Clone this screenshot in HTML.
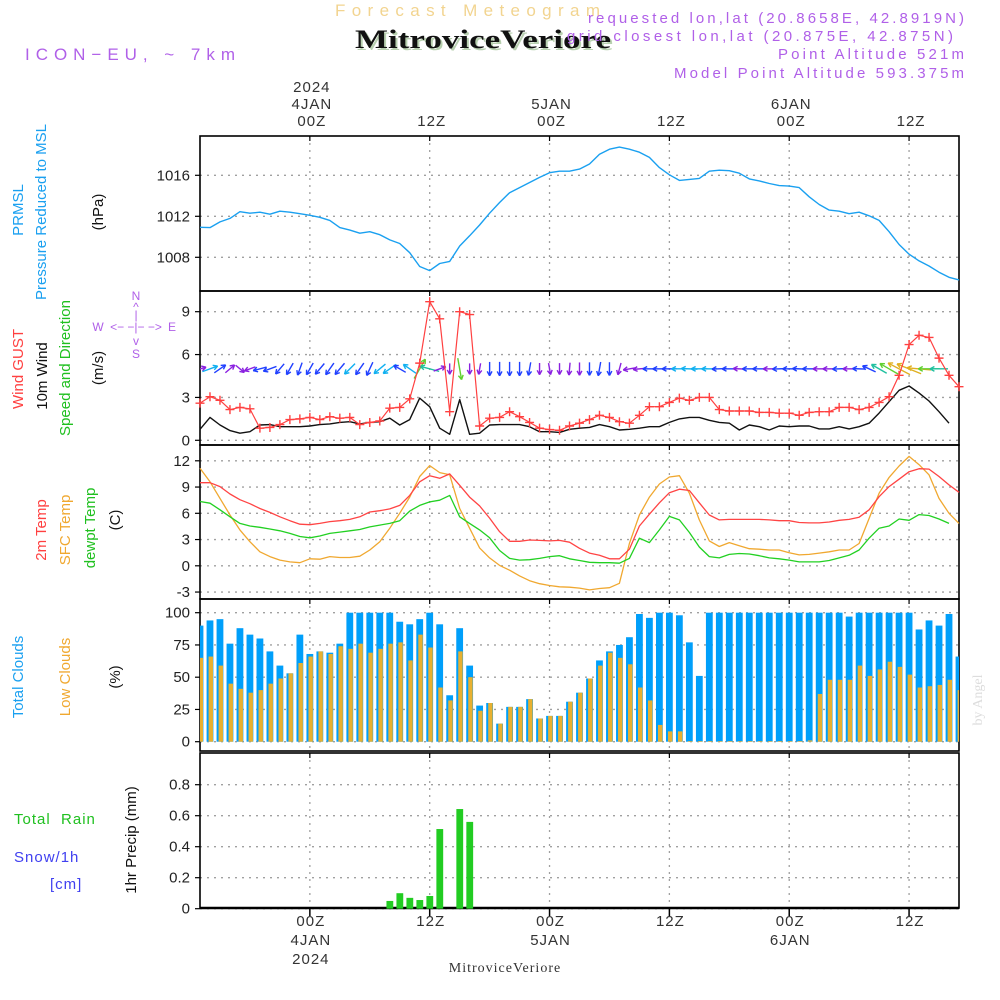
<!DOCTYPE html>
<html><head><meta charset="utf-8"><title>Meteogram</title>
<style>
html,body{margin:0;padding:0;background:#fff;}
svg{display:block;font-family:"Liberation Sans",sans-serif;}
.tk{font-size:15px;fill:#222;text-anchor:end;}
.xl{font-size:15px;fill:#333;text-anchor:middle;letter-spacing:1px;}
</style></head>
<body>
<svg id="chart" width="1000" height="1000" viewBox="0 0 1000 1000" xmlns="http://www.w3.org/2000/svg">
<text x="335" y="16" font-size="17" fill="#f2d490" textLength="265" lengthAdjust="spacing">Forecast Meteogram</text>
<text x="357" y="50" font-size="26" font-weight="bold" font-family="Liberation Serif, serif" fill="#b8d0b0" textLength="256" lengthAdjust="spacingAndGlyphs">MitroviceVeriore</text>
<text x="355" y="48" font-size="26" font-weight="bold" font-family="Liberation Serif, serif" fill="#111" textLength="256" lengthAdjust="spacingAndGlyphs">MitroviceVeriore</text>
<text x="25" y="60" font-size="17" fill="#b060e8" textLength="210" lengthAdjust="spacing">ICON−EU, ~ 7km</text>
<g font-size="15" fill="#b060e8">
<text x="588" y="23" textLength="376" lengthAdjust="spacing">requested lon,lat (20.8658E, 42.8919N)</text>
<text x="567" y="41" textLength="386" lengthAdjust="spacing">grid closest lon,lat (20.875E, 42.875N)</text>
<text x="778" y="59" textLength="186" lengthAdjust="spacing">Point Altitude 521m</text>
<text x="674" y="78" textLength="290" lengthAdjust="spacing">Model Point Altitude 593.375m</text>
</g>
<g id="axes"></g>
<g id="marks"></g>
<g font-size="15">
<text transform="translate(23,210) rotate(-90)" text-anchor="middle" fill="#1aa0f0">PRMSL</text>
<text transform="translate(46,212) rotate(-90)" text-anchor="middle" fill="#1aa0f0">Pressure Reduced to MSL</text>
<text transform="translate(103,212) rotate(-90)" text-anchor="middle" fill="#111">(hPa)</text>
<text transform="translate(23,369) rotate(-90)" text-anchor="middle" fill="#ff4040">Wind GUST</text>
<text transform="translate(47,376) rotate(-90)" text-anchor="middle" fill="#111">10m Wind</text>
<text transform="translate(70,368) rotate(-90)" text-anchor="middle" fill="#20c020">Speed and Direction</text>
<text transform="translate(103,368) rotate(-90)" text-anchor="middle" fill="#111">(m/s)</text>
<text transform="translate(46,530) rotate(-90)" text-anchor="middle" fill="#ff4040">2m Temp</text>
<text transform="translate(70,530) rotate(-90)" text-anchor="middle" fill="#f0a830">SFC Temp</text>
<text transform="translate(95,528) rotate(-90)" text-anchor="middle" fill="#20c020">dewpt Temp</text>
<text transform="translate(120,520) rotate(-90)" text-anchor="middle" fill="#111">(C)</text>
<text transform="translate(23,677) rotate(-90)" text-anchor="middle" fill="#1aa0f0">Total Clouds</text>
<text transform="translate(70,677) rotate(-90)" text-anchor="middle" fill="#f0a830">Low Clouds</text>
<text transform="translate(120,677) rotate(-90)" text-anchor="middle" fill="#111">(%)</text>
<text x="14" y="824" fill="#20c020" letter-spacing="1">Total&#160;&#160;Rain</text>
<text x="14" y="862" fill="#4040f0" letter-spacing="1">Snow/1h</text>
<text x="50" y="889" fill="#4040f0" letter-spacing="1">[cm]</text>
<text transform="translate(136,840) rotate(-90)" text-anchor="middle" fill="#111">1hr Precip (mm)</text>
</g>
<g font-size="12" fill="#b060e8" text-anchor="middle">
<text x="136" y="300">N</text><text x="136" y="311">^</text><text x="136" y="319">|</text>
<text x="98" y="331">W</text><text x="136" y="331">&lt;− −|− −&gt;</text><text x="172" y="331">E</text>
<text x="136" y="345">v</text><text x="136" y="358">S</text>
</g>
<text x="505" y="972" font-size="14" font-family="Liberation Serif, serif" fill="#333" text-anchor="middle" letter-spacing="1">MitroviceVeriore</text>
<text transform="translate(982,700) rotate(-90)" font-size="14" font-family="Liberation Serif, serif" fill="#ddd" text-anchor="middle">by Angel</text>
</svg>
<script>
// hours from 00Z 4 JAN, -11 .. 65
const hourStart = -11;
const pressure = [1010.93,1010.9,1011.45,1011.8,1012.45,1012.3,1012.4,1012.2,1012.5,1012.4,1012.25,1012.1,1011.9,1011.6,1010.9,1010.65,1010.35,1010.5,1010.2,1009.7,1009.35,1008.45,1007.1,1006.7,1007.4,1007.6,1009.1,1010.1,1011.15,1012.3,1013.35,1014.3,1014.8,1015.3,1015.8,1016.25,1016.4,1016.4,1016.6,1017.1,1018.05,1018.55,1018.75,1018.55,1018.25,1017.75,1016.75,1016.05,1015.5,1015.6,1015.7,1016.4,1016.5,1016.45,1016.2,1015.65,1015.45,1015.2,1015.0,1014.95,1014.8,1013.9,1013.15,1012.6,1012.5,1012.25,1012.4,1012.05,1011.6,1010.5,1009.25,1008.3,1007.65,1007.15,1006.55,1006.05,1005.8];
const gust = [2.6,3.05,2.8,2.15,2.3,2.2,0.85,0.9,1.1,1.45,1.5,1.6,1.45,1.65,1.55,1.6,1.1,1.25,1.35,2.25,2.3,2.9,5.4,9.7,8.5,2.0,9.0,8.8,1.0,1.55,1.6,2.0,1.65,1.25,0.85,0.75,0.7,1.0,1.2,1.45,1.75,1.6,1.3,1.2,1.75,2.35,2.35,2.65,2.95,2.8,3.0,3.0,2.15,2.05,2.05,2.05,1.95,1.95,1.9,1.9,1.75,1.95,2.0,2.0,2.3,2.3,2.15,2.3,2.65,3.05,4.55,6.7,7.35,7.2,5.75,4.55,3.75];
const windSpeed = [0.77,1.6,1.07,0.68,0.5,0.6,1.07,1.1,0.95,0.95,0.95,1.0,1.1,1.15,1.25,1.3,1.15,1.25,1.3,1.55,1.07,1.45,2.95,2.35,0.85,0.42,2.85,0.42,0.5,1.07,1.1,1.1,1.1,0.95,0.6,0.6,0.55,0.77,0.85,0.9,1.1,0.95,0.72,0.77,0.85,0.95,0.95,1.25,1.5,1.6,1.6,1.4,1.25,1.2,0.72,1.07,0.95,0.72,1.0,0.95,1.0,1.0,0.8,0.8,0.95,0.8,0.95,1.2,1.9,2.7,3.5,3.8,3.3,2.75,2.0,1.2];
const windDir = [15,20,35,40,-40,200,195,200,230,240,250,240,230,235,230,225,235,245,220,215,150,145,60,165,20,270,280,270,260,270,270,270,270,260,270,280,270,265,270,270,260,270,255,190,185,180,180,180,180,178,180,180,182,180,178,180,180,180,182,180,178,180,180,180,182,180,178,155,150,150,152,158,175,180,180];
const temp2m = [9.5,9.5,9.05,8.2,7.55,7.1,6.55,6.1,5.6,5.15,4.75,4.7,4.85,5.05,5.15,5.3,5.6,6.15,6.3,6.5,6.9,8.05,9.6,10.3,10.0,10.5,9.2,7.85,6.85,5.45,3.9,2.8,2.8,2.95,2.9,2.85,2.9,2.7,2.0,1.45,1.2,0.8,0.8,1.9,4.55,5.9,7.2,8.35,8.75,8.6,7.2,5.8,5.25,5.3,5.3,5.3,5.3,5.25,5.15,5.15,4.95,4.9,4.9,5.0,5.2,5.3,5.55,6.4,7.9,9.05,9.9,10.75,11.1,11.05,10.2,9.25,8.4];
const tempSfc = [11.15,9.6,7.7,5.8,4.1,2.75,1.6,1.05,0.65,0.45,0.35,0.8,0.75,1.05,0.95,0.95,1.1,1.8,2.75,4.3,6.0,7.85,10.2,11.45,10.65,10.4,6.55,4.3,2.05,0.9,0.05,-0.5,-1.15,-1.7,-2.05,-2.25,-2.4,-2.45,-2.55,-2.75,-2.6,-2.5,-2.0,2.55,5.8,7.85,9.35,10.15,10.3,8.3,5.25,2.85,2.2,2.65,2.3,1.95,1.9,1.8,1.8,1.5,1.25,1.3,1.45,1.6,1.8,1.8,2.55,5.4,8.3,10.1,11.4,12.5,11.55,10.4,7.7,6.0,4.85];
const dewpt = [7.35,7.15,6.4,5.6,4.85,4.55,4.4,4.2,4.0,3.7,3.35,3.2,3.4,3.7,3.85,4.0,4.15,4.45,4.65,4.85,5.15,6.25,6.9,7.3,7.5,8.05,5.6,4.85,4.1,3.2,1.75,0.85,0.65,0.7,0.85,1.05,1.15,0.8,0.6,0.4,0.35,0.35,0.3,0.85,3.15,2.65,4.1,5.65,5.25,3.8,2.15,1.05,0.9,1.3,1.4,1.35,1.15,0.9,0.8,0.65,0.45,0.45,0.45,0.6,0.9,1.2,1.8,3.15,4.3,4.55,5.35,5.2,5.85,5.75,5.35,4.85];
const totalClouds = [90,94,95,76,88,83,80,70,59,53,83,68,70,69,76,100,100,100,100,100,93,91,95,100,91,36,88,59,28,30,14,27,27,33,18,20,20,31,38,49,63,70,75,81,99,96,100,100,98,77,51,100,100,100,100,100,100,100,100,100,100,100,100,100,100,97,100,100,100,100,100,100,87,94,90,99,66];
const lowClouds = [65,66,59,45,41,38,40,45,49,53,61,66,70,68,74,72,76,69,72,76,77,63,83,73,42,32,70,50,24,30,14,27,27,33,18,20,20,31,38,49,59,69,65,60,42,32,13,8,8,0.5,0.5,0.5,0.5,0.5,0.5,0.5,0.5,0.5,0.5,0.5,0.5,1,37,48,48,48,59,51,56,62,58,52,42,43,44,48,40,44];
const precipHours = [8,9,10,11,12,13,15,16];
const precipValues = [0.05,0.10,0.07,0.056,0.082,0.514,0.643,0.56];
const pTicks = [1008,1012,1016];
const wTicks = [0,3,6,9];
const tTicks = [-3,0,3,6,9,12];
const cTicks = [0,25,50,75,100];
const rTicks = ["0","0.2","0.4","0.6","0.8"];
const gridHours = [0,12,24,36,48,60];
const topLabels = [["2024","4JAN","00Z"],["","","12Z"],["","5JAN","00Z"],["","","12Z"],["","6JAN","00Z"],["","","12Z"]];
const bottomLabels = [["00Z","4JAN","2024"],["12Z","",""],["00Z","5JAN",""],["12Z","",""],["00Z","6JAN",""],["12Z","",""]];

const NS = "http://www.w3.org/2000/svg";
const X0 = 200, X1 = 959;
function x(h){ return X0 + (h - hourStart) * (X1 - X0) / 76; }
const panels = [
  {name:"pressure-panel", top:136, bot:291, y:v=>175.3+(1016-v)*10.25, ticks:pTicks},
  {name:"wind-panel", top:291, bot:445, y:v=>440.3-v*14.29, ticks:wTicks},
  {name:"temperature-panel", top:445, bot:599, y:v=>565.8-v*8.75, ticks:tTicks},
  {name:"clouds-panel", top:599, bot:751, y:v=>741.7-v*1.29, ticks:cTicks},
  {name:"precip-panel", top:753, bot:908, y:v=>908.7-v*155, ticks:rTicks.map(Number), labels:rTicks}
];
function el(tag, attrs, parent){
  const e = document.createElementNS(NS, tag);
  for (const k in attrs) e.setAttribute(k, attrs[k]);
  parent.appendChild(e); return e;
}
const axes = document.getElementById('axes');
const marks = document.getElementById('marks');

panels.forEach((p, pi) => {
  const g = el('g', {}, axes);
  
  
  p.ticks.forEach((t, ti) => {
    const yy = p.y(t);
    const gl = el('line', {x1:X0, x2:X1, y1:yy, y2:yy, stroke:'#a0a0a0', 'stroke-width':1.3, 'stroke-dasharray':'2,5'}, g);
    
    
    el('line', {x1:X0-5, x2:X0, y1:yy, y2:yy, stroke:'#000', 'stroke-width':1.2}, g);
    const tl = el('text', {x:X0-10, y:yy+5, class:'tk'}, g);
    
    
    tl.textContent = p.labels ? p.labels[ti] : String(t);
  });
  gridHours.forEach(h => {
    const gv = el('line', {x1:x(h), x2:x(h), y1:p.top, y2:p.bot, stroke:'#a0a0a0', 'stroke-width':1.3, 'stroke-dasharray':'2,5'}, g);
    
    
    el('line', {x1:x(h), x2:x(h), y1:p.top, y2:p.top+5, stroke:'#000', 'stroke-width':1.2}, g);
  });
  const fr = el('rect', {x:X0, y:p.top, width:X1-X0, height:p.bot-p.top, fill:'none', stroke:'#000', 'stroke-width':1.6}, g);
  
  
});
el('line', {x1:X0, x2:X1, y1:908, y2:908, stroke:'#000', 'stroke-width':2.5}, axes);
gridHours.forEach(h => el('line', {x1:x(h), x2:x(h), y1:908, y2:916, stroke:'#000', 'stroke-width':1.5}, axes));

gridHours.forEach((h, i) => {
  topLabels[i].forEach((s, j) => {
    if (!s) return;
    const t = el('text', {x:x(h)+2, y:92+j*17, class:'xl'}, axes);
    
    
    t.textContent = s;
  });
  bottomLabels[i].forEach((s, j) => {
    if (!s) return;
    const t = el('text', {x:x(h)+1, y:926+j*19, class:'xl'}, axes);
    
    
    t.textContent = s;
  });
});

function clipFor(p, id){
  const cp = el('clipPath', {id:id}, marks);
  el('rect', {x:X0, y:p.top, width:X1-X0, height:p.bot-p.top}, cp);
  return 'url(#'+id+')';
}
function line(arr, p, color, name, w){
  const pts = arr.map((v,i)=> x(hourStart+i).toFixed(1)+','+p.y(v).toFixed(1)).join(' ');
  const pl = el('polyline', {points:pts, fill:'none', stroke:color, 'stroke-width':w||1.3, 'stroke-linejoin':'round'}, marks);
  
  
  return pl;
}

line(pressure, panels[0], '#1aa0f0', 'pressure-line', 1.4);

const cclip = clipFor(panels[3], 'cclip');
const cg = el('g', {'clip-path':cclip}, marks);


totalClouds.forEach((v,i) => {
  const cx = x(hourStart+i), p = panels[3];
  const b = el('rect', {x:cx-3.4, y:p.y(v), width:6.8, height:p.y(0)-p.y(v), fill:'#009ffa'}, cg);
  
  
});
lowClouds.forEach((v,i) => {
  const cx = x(hourStart+i), p = panels[3];
  const b = el('rect', {x:cx-1.4, y:p.y(v), width:4.4, height:p.y(0)-p.y(v), fill:'#e8b030'}, cg);
  
  
});

precipValues.forEach((v,i) => {
  const p = panels[4], cx = x(precipHours[i]);
  const b = el('rect', {x:cx-3.3, y:p.y(v), width:6.8, height:p.y(0)-p.y(v), fill:'#22cc22'}, marks);
  
  
});

line(tempSfc, panels[2], '#f0a830', 'sfc-temp-line', 1.3);
line(temp2m, panels[2], '#ff4444', '2m-temp-line', 1.3);
line(dewpt, panels[2], '#22d022', 'dewpoint-line', 1.3);

line(windSpeed, panels[1], '#111', 'wind-speed-line', 1.4);

function arrowColor(s){
  if (s < 0.9) return '#8a20e0';
  if (s < 1.3) return '#2040ff';
  if (s < 1.7) return '#10b0f0';
  if (s < 2.5) return '#20c0a0';
  if (s < 3.3) return '#60d030';
  return '#e0b020';
}
const wg = el('g', {'clip-path':clipFor(panels[1],'wclip')}, marks);


windDir.forEach((d,i) => {
  const s = windSpeed[i], cx = x(hourStart+i), cy = panels[1].y(5.0);
  const L = Math.min(26, 9 + 4.5*s), a = d*Math.PI/180;
  const dx = Math.cos(a)*L/2, dy = -Math.sin(a)*L/2;
  const hx = cx+dx, hy = cy+dy, tx = cx-dx, ty = cy-dy;
  const c = arrowColor(s);
  const ag = el('g', {stroke:c, 'stroke-width':1.4, fill:'none'}, wg);
  
  
  el('line', {x1:tx, y1:ty, x2:hx, y2:hy}, ag);
  [0.5,-0.5].forEach(o => {
    el('line', {x1:hx, y1:hy, x2:hx-Math.cos(a+o)*5, y2:hy+Math.sin(a+o)*5}, ag);
  });
});

line(gust, panels[1], '#ff4040', 'gust-line', 1.2);
gust.forEach((v,i) => {
  const cx = x(hourStart+i), cy = panels[1].y(v);
  const m = el('path', {d:`M${cx-4.5},${cy}H${cx+4.5}M${cx},${cy-4.5}V${cy+4.5}`, stroke:'#ff4040', 'stroke-width':1.4}, marks);
  
  
});
</script>
</body></html>
